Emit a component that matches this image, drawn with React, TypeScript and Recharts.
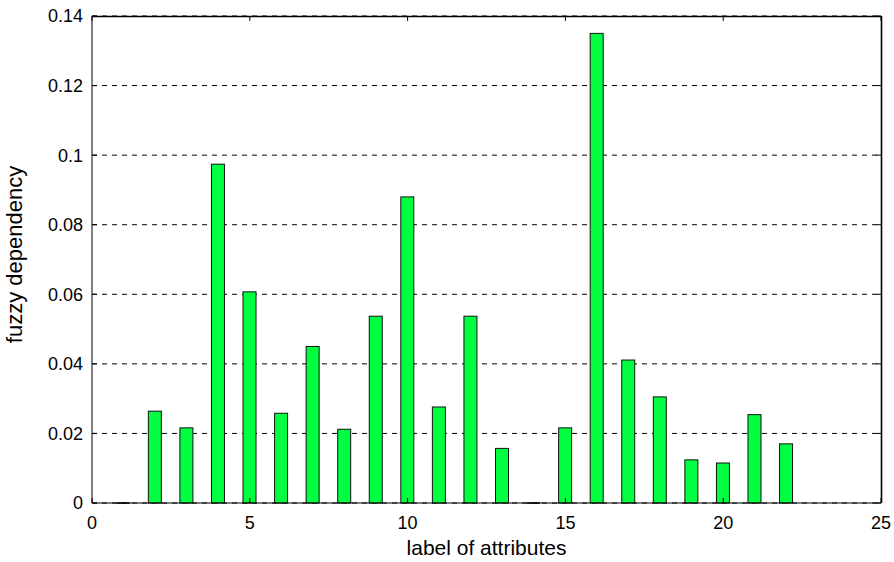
import React from 'react';
import { BarChart, Bar, XAxis, YAxis, CartesianGrid } from 'recharts';

// attribute labels on the x axis and their fuzzy dependency values
const attributes = [1, 2, 3, 4, 5, 6, 7, 8, 9, 10, 11, 12, 13, 14, 15, 16, 17, 18, 19, 20, 21, 22];
const dependency = [
  0, 0.0264, 0.0216, 0.0974, 0.0607, 0.0258, 0.045, 0.0212, 0.0537, 0.088, 0.0276,
  0.0537, 0.0157, 0, 0.0216, 0.135, 0.0411, 0.0305, 0.0124, 0.0115, 0.0254, 0.017,
];
const xTicks = [0, 5, 10, 15, 20, 25];
const yTicks = [0, 0.02, 0.04, 0.06, 0.08, 0.1, 0.12, 0.14];

const data = attributes.map((a, i) => ({ attr: a, value: dependency[i] }));

const W = 894;
const H = 562;
const M_TOP = 16;
const M_RIGHT = 13;
const Y_AXIS_W = 92;
const X_AXIS_H = 59;
const FONT = '"Liberation Sans", Arial, Helvetica, sans-serif';
const TICK_FONT = 18;
const LABEL_FONT = 21;
const X_MAX = 25;
const Y_MAX = 0.14;

const fmtY = (v: number) => String(Number(v.toFixed(2)));

// MATLAB style ticks point into the plot box, on both opposite sides
const BottomTick = ({ x, y, payload }: any) => (
  <g>
    <line x1={x} x2={x} y1={y} y2={y - 5} stroke="#000" />
    <line x1={x} x2={x} y1={M_TOP} y2={M_TOP + 5} stroke="#000" />
    <text x={x} y={y + 26} textAnchor="middle" fontSize={TICK_FONT} fontFamily={FONT} fill="#000">
      {payload.value}
    </text>
  </g>
);

const LeftTick = ({ x, y, payload }: any) => (
  <g>
    <line x1={x} x2={x + 5} y1={y} y2={y} stroke="#000" />
    <line x1={W - M_RIGHT} x2={W - M_RIGHT - 5} y1={y} y2={y} stroke="#000" />
    <text x={x - 9} y={y} dy="0.36em" textAnchor="end" fontSize={TICK_FONT} fontFamily={FONT} fill="#000">
      {fmtY(payload.value)}
    </text>
  </g>
);

const BarShape = (props: any) => {
  const { x, y, width, height, fill } = props;
  if (!height) {
    return <line x1={x} x2={x + width} y1={y} y2={y} stroke="#000" strokeWidth={1.5} />;
  }
  return <rect x={x} y={y} width={width} height={height} fill={fill} stroke="#111" strokeWidth={1} />;
};

const App: React.FC = () => {
  const right = W - M_RIGHT;
  const bottom = H - X_AXIS_H;
  return (
    <div style={{ position: 'absolute', left: 0, top: 0, background: '#fff' }}>
      <BarChart
        width={W}
        height={H}
        data={data}
        margin={{ top: M_TOP, right: M_RIGHT, left: 0, bottom: 0 }}
        barSize={13}
      >
        <CartesianGrid vertical={false} stroke="#000" strokeDasharray="5 5" horizontalValues={yTicks} />
        <XAxis
          dataKey="attr"
          type="number"
          domain={[0, X_MAX]}
          ticks={xTicks}
          interval={0}
          height={X_AXIS_H}
          tickSize={0}
          tickMargin={0}
          tickLine={false}
          tick={<BottomTick />}
          axisLine={{ stroke: '#000' }}
          label={{
            content: ({ viewBox }: any) => (
              <text
                x={viewBox.x + viewBox.width / 2}
                y={555}
                textAnchor="middle"
                fontSize={LABEL_FONT}
                fontFamily={FONT}
                fill="#000"
              >
                label of attributes
              </text>
            ),
          }}
        />
        <YAxis
          type="number"
          domain={[0, Y_MAX]}
          ticks={yTicks}
          interval={0}
          width={Y_AXIS_W}
          tickSize={0}
          tickMargin={0}
          tickLine={false}
          tick={<LeftTick />}
          axisLine={{ stroke: '#000' }}
          label={{
            content: ({ viewBox }: any) => {
              const cx = 22;
              const cy = viewBox.y + viewBox.height / 2 - 5;
              return (
                <text
                  x={cx}
                  y={cy}
                  transform={`rotate(-90 ${cx} ${cy})`}
                  textAnchor="middle"
                  fontSize={LABEL_FONT + 1}
                  fontFamily={FONT}
                  fill="#000"
                >
                  fuzzy dependency
                </text>
              );
            },
          }}
        />
        <Bar dataKey="value" fill="#00ff40" shape={<BarShape />} isAnimationActive={false} />
        {/* top and right edges of the plot box */}
        <line x1={Y_AXIS_W} x2={right + 0.5} y1={M_TOP + 0.5} y2={M_TOP + 0.5} stroke="#000" strokeWidth={1.6} />
        <line x1={right + 0.5} x2={right + 0.5} y1={M_TOP} y2={bottom} stroke="#000" strokeWidth={1.6} />
      </BarChart>
    </div>
  );
};

export default App;
